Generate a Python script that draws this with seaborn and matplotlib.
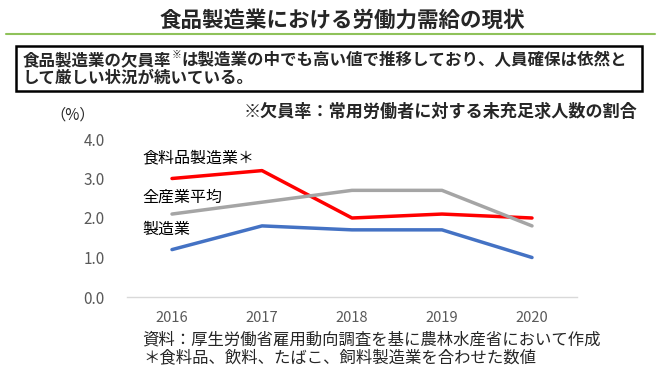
import pandas as pd
import matplotlib
matplotlib.use("Agg")
import matplotlib.pyplot as plt
from matplotlib.patches import Rectangle
from matplotlib.lines import Line2D
import seaborn as sns

# data (欠員率, %)
years = ["2016", "2017", "2018", "2019", "2020"]
food_mfg = [3.0, 3.2, 2.0, 2.1, 2.0]
all_industry = [2.1, 2.4, 2.7, 2.7, 1.8]
manufacturing = [1.2, 1.8, 1.7, 1.7, 1.0]

series_names = ["食料品製造業＊", "全産業平均", "製造業"]
series_colors = ["#FF0000", "#A5A5A5", "#4472C4"]
label_y = [3.52, 2.53, 1.72]
y_ticks = [0.0, 1.0, 2.0, 3.0, 4.0]

df = pd.concat([
    pd.DataFrame({"year": years, "rate": vals, "series": name})
    for name, vals in zip(series_names, [food_mfg, all_industry, manufacturing])
])

sns.set_theme(style="white")
plt.rcParams["font.family"] = ["Noto Sans CJK JP", "DejaVu Sans"]

W, H = 660, 376
fig = plt.figure(figsize=(W / 100, H / 100), dpi=100)
ax = fig.add_axes([127 / W, 1 - 297 / H, 450 / W, 158 / H])

sns.lineplot(data=df, x="year", y="rate", hue="series", hue_order=series_names,
             palette=series_colors, linewidth=2.5, legend=False, ax=ax, sort=False)

ax.set_xlim(-0.5, len(years) - 0.5)
ax.set_ylim(0, 4)
ax.set_yticks(y_ticks)
ax.set_yticklabels([f"{v:.1f}" for v in y_ticks])
ax.set_xlabel("")
ax.set_ylabel("")
ax.tick_params(axis="y", length=0, pad=16, labelsize=11, labelcolor="#595959")
ax.tick_params(axis="x", length=0, pad=10, labelsize=10.5, labelcolor="#595959")
for s in ["left", "right", "top"]:
    ax.spines[s].set_visible(False)
ax.spines["bottom"].set_color("#D9D9D9")
ax.spines["bottom"].set_linewidth(1)
ax.grid(False)

# direct series labels
for name, yy in zip(series_names, label_y):
    ax.text(-0.33, yy, name, fontsize=11.5, va="center", ha="left", color="black")

# title + green rule
fig.text(342 / W, 1 - 20 / H, "食品製造業における労働力需給の現状", ha="center", va="center",
         fontsize=15.5, fontweight="bold")
fig.add_artist(Line2D([6 / W, 655 / W], [1 - 34 / H, 1 - 34 / H], color="#8FC25A", lw=1.5))

# summary box
fig.add_artist(Rectangle((16 / W, 1 - 91 / H), 626 / W, 45 / H, fill=False,
                         edgecolor="black", lw=1.8))
t1 = fig.text(23 / W, 1 - 60 / H, "食品製造業の欠員率", fontsize=11.9, fontweight="bold", va="center")
fig.canvas.draw()
r = fig.canvas.get_renderer()
bb = t1.get_window_extent(r)
t2 = fig.text(bb.x1 / W, 1 - 55 / H, "※", fontsize=7, fontweight="bold", va="center")
bb2 = t2.get_window_extent(r)
fig.text(bb2.x1 / W, 1 - 60 / H, "は製造業の中でも高い値で推移しており、人員確保は依然と",
         fontsize=11.9, fontweight="bold", va="center")
fig.text(23 / W, 1 - 78 / H, "して厳しい状況が続いている。", fontsize=11.9, fontweight="bold", va="center")

# note and unit
fig.text(637 / W, 1 - 112 / H, "※欠員率：常用労働者に対する未充足求人数の割合", ha="right", va="center",
         fontsize=12.3, fontweight="bold")
fig.text(50 / W, 1 - 115 / H, "（%）", ha="left", va="center", fontsize=11)

# source notes
fig.text(142 / W, 1 - 340 / H, "資料：厚生労働省雇用動向調査を基に農林水産省において作成", va="center",
         fontsize=11.8)
fig.text(143 / W, 1 - 358 / H, "＊食料品、飲料、たばこ、飼料製造業を合わせた数値", va="center",
         fontsize=11.8)

fig.savefig("out.png", dpi=100)
